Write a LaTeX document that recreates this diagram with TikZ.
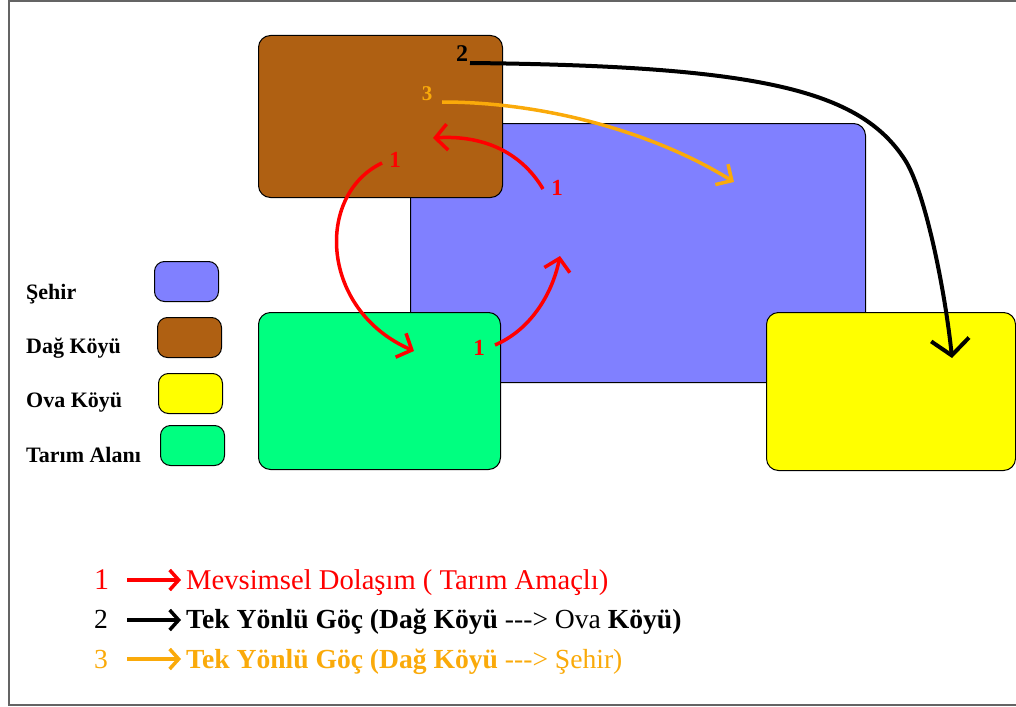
\documentclass[tikz,border=0pt]{standalone}
\usepackage{fontspec}
\setmainfont{Liberation Serif}
\usetikzlibrary{arrows.meta}
\definecolor{sehirc}{RGB}{128,128,255}
\definecolor{dagc}{RGB}{175,96,18}
\definecolor{ovac}{RGB}{255,255,0}
\definecolor{tarimc}{RGB}{0,255,128}
\definecolor{orangec}{RGB}{250,170,10}
\definecolor{redc}{RGB}{255,0,0}
\definecolor{framec}{RGB}{100,100,100}
\newcommand{\arrowtxt}{-{}-{}->}
\tikzset{
  area/.style={draw=black, line width=1pt, rounded corners=12pt, anchor=north west, inner sep=0pt},
  swatch/.style={draw=black, line width=1pt, rounded corners=10pt, minimum width=64pt, minimum height=40pt, inner sep=0pt, anchor=north west},
  legtext/.style={anchor=base west, inner sep=0pt, font=\fontsize{22}{24}\selectfont\bfseries},
  numlbl/.style={inner sep=0pt, font=\bfseries},
  keytext/.style={anchor=base west, inner sep=0pt, font=\fontsize{27.6}{30}\selectfont},
  redarrow/.style={draw=redc, line width=3.5pt, -{Straight Barb[length=12pt,width=26pt]}},
  blackarrow/.style={draw=black, line width=4pt, -{Straight Barb[length=16pt,width=38pt]}},
  orangearrow/.style={draw=orangec, line width=3.5pt, -{Straight Barb[length=12pt,width=24pt]}},
  keyarrow/.style={line width=3.5pt, -{Straight Barb[length=9pt,width=20pt]}},
}
\begin{document}
\begin{tikzpicture}[x=1pt,y=-1pt]
\useasboundingbox (0,0) rectangle (1016,706);
% frame
\draw[framec, line width=2pt] (1016,1) -- (9,1) -- (9,705) -- (1016,705);

% areas
\node[area, fill=sehirc, minimum width=455pt, minimum height=259pt] (sehir) at (410,123) {};
\node[area, fill=dagc, minimum width=244pt, minimum height=162pt] (dag) at (258,35) {};
\node[area, fill=tarimc, minimum width=242pt, minimum height=157pt] (tarim) at (258,312) {};
\node[area, fill=ovac, minimum width=249pt, minimum height=158pt] (ova) at (766,312) {};

% legend swatches
\node[swatch, fill=sehirc] (sw1) at (154,261) {};
\node[swatch, fill=dagc] (sw2) at (157,317) {};
\node[swatch, fill=ovac] (sw3) at (158,373) {};
\node[swatch, fill=tarimc] (sw4) at (160,425) {};
\node[legtext] (lt1) at (26,299) {Şehir};
\node[legtext] (lt2) at (26,353) {Dağ Köyü};
\node[legtext] (lt3) at (26,407) {Ova Köyü};
\node[legtext] (lt4) at (26,462) {Tarım Alanı};

% number labels
\node[numlbl, font=\fontsize{24}{26}\selectfont\bfseries] (n2) at (462,54) {2};
\node[numlbl, text=orangec, font=\fontsize{21}{22}\selectfont\bfseries] (n3) at (427,94) {3};
\node[numlbl, text=redc, font=\fontsize{23}{24}\selectfont\bfseries] (n1a) at (395,160) {1};
\node[numlbl, text=redc, font=\fontsize{23}{24}\selectfont\bfseries] (n1b) at (479,348) {1};
\node[numlbl, text=redc, font=\fontsize{23}{24}\selectfont\bfseries] (n1c) at (557,188) {1};

% arrow end points
\coordinate (s2) at (470,63);
\coordinate (e2) at (952,358);
\coordinate (s3) at (442,102);
\coordinate (e3) at (734,182);
\coordinate (s1a) at (382,163);
\coordinate (e1a) at (414,351);
\coordinate (s1b) at (495,345);
\coordinate (e1b) at (560,256);
\coordinate (s1c) at (543,189);
\coordinate (e1c) at (433,138);

% arrows
\draw[blackarrow] (s2) .. controls (760,66) and (860,90) .. (905,160)
   .. controls (925,191) and (945,290) .. (e2);
\draw[orangearrow] (s3) .. controls (540,102) and (650,130) .. (e3);
\draw[redarrow] (s1a) .. controls (315,195) and (320,310) .. (e1a);
\draw[redarrow] (s1b) .. controls (530,330) and (552,295) .. (e1b);
\draw[redarrow] (s1c) .. controls (520,150) and (480,135) .. (e1c);

% key
\node[keytext, text=redc, font=\fontsize{30}{30}\selectfont] (k1) at (94,589) {1};
\node[keytext] (k2) at (94,628) {2};
\node[keytext, text=orangec] (k3) at (94,668) {3};
\node[keytext, text=redc, font=\fontsize{28.6}{30}\selectfont] (t1) at (186,589) {Mevsimsel Dolaşım ( Tarım Amaçlı)};
\node[keytext] (t2) at (186,628) {\textbf{Tek Yönlü Göç (Dağ Köyü} \arrowtxt{} Ova \textbf{Köyü)}};
\node[keytext, text=orangec] (t3) at (186,668) {\textbf{Tek Yönlü Göç (Dağ Köyü} \arrowtxt{} Şehir)};
\coordinate (a1s) at (127,580);
\coordinate (a1e) at (181,580);
\coordinate (a2s) at (127,620);
\coordinate (a2e) at (181,620);
\coordinate (a3s) at (127,659);
\coordinate (a3e) at (181,659);
\draw[keyarrow, redc] (a1s) -- (a1e);
\draw[keyarrow, black] (a2s) -- (a2e);
\draw[keyarrow, orangec] (a3s) -- (a3e);
\end{tikzpicture}
\end{document}
